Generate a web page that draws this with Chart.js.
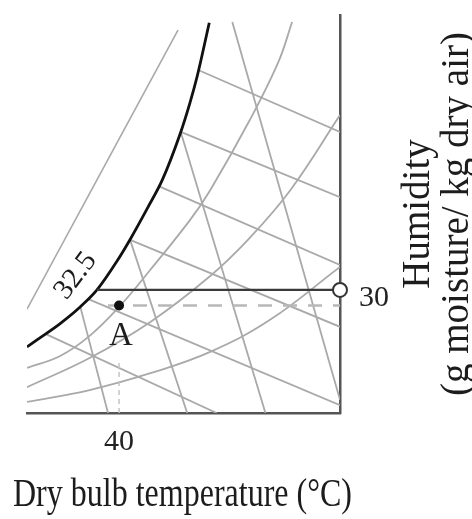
<!DOCTYPE html>
<html>
<head>
<meta charset="utf-8">
<script src="https://cdn.jsdelivr.net/npm/chart.js@4/dist/chart.umd.min.js"></script>
<style>
html,body{margin:0;padding:0;background:#fff;}
#wrap{width:472px;height:519px;}
</style>
</head>
<body>
<div id="wrap"><canvas id="c" width="472" height="519"></canvas></div>
<script>
// ---- data (dry bulb temperature °C, humidity g/kg) ----
const xTicks = [40];
const yTicks = [30];
const xTitle = 'Dry bulb temperature (\u00B0C)';
const yTitle = ['Humidity', '(g moisture/ kg dry air)'];

const saturationCurve = [[30.0,16.1],[31.4,18.3],[33.6,21.8],[35.8,25.9],[37.6,30.0],[39.8,37.1],[41.2,42.3],[43.1,50.0],[44.7,56.8],[46.6,67.8],[47.7,75.6],[48.5,82.2],[49.8,95.1]];
const outerLine = [[30.0,25.3],[46.4,93.3]];
const enthalpyLines = [
  [[48.6,83.6],[64,68.5]],
  [[46.7,68.5],[64,52.6]],
  [[44.3,55.3],[64,36.1]],
  [[41.2,42.2],[64,21.0]],
  [[36.6,27.8],[64,1.9]],
  [[32.0,19.3],[50.6,0]]
];
const volumeLines = [
  [[52.3,95.3],[64,3.2]],
  [[46.7,68.5],[55.9,0]],
  [[41.2,42.2],[47.4,0]],
  [[35.8,25.8],[38.8,0]]
];
const rhCurves = [
  [[30.0,11.0],[33.6,13.9],[36.8,18.8],[40.1,26.1],[43.4,34.9],[47.7,47.0],[49.9,54.3],[54.2,71.4],[57.3,85.5],[58.8,95.3]],
  [[30.0,6.3],[36.8,13.4],[43.4,22.2],[49.9,33.4],[54.2,42.7],[58.6,54.3],[64,72.6]],
  [[30.0,2.7],[36.8,5.6],[43.4,9.7],[49.9,14.9],[56.4,22.7],[64,35.6]]
];
const processLine = [[37.6,30],[64,30]];
const stateLine = [[38.8,26.2],[64,26.2]];
const stateDrop = [[40,0],[40,13]];
const pointA = [[40,26.2]];
const pointEnd = [[64,30]];
const curveLabel = {text:'32.5', x:35.3, y:33.4};
const pointLabel = {text:'A', x:40.2, y:18.7};

// ---- build ----
const family = "'Liberation Serif','Times New Roman',serif";
const toXY = a => a.map(([x,y]) => ({x, y}));
const GRAY = '#a9a9a9';
const datasets = [];
datasets.push({data: toXY(pointA), showLine:false, pointRadius:5, pointBackgroundColor:'#111', pointBorderColor:'#111', pointBorderWidth:0, clip:false});
datasets.push({data: toXY(pointEnd), showLine:false, pointRadius:7, pointBackgroundColor:'#fff', pointBorderColor:'#333', pointBorderWidth:2, clip:false});
datasets.push({data: toXY(processLine), borderColor:'#3a3a3a', borderWidth:2.2, pointRadius:0});
datasets.push({data: toXY(stateLine), borderColor:'#b8b8b8', borderWidth:2.5, borderDash:[14,11], pointRadius:0});
datasets.push({data: toXY(stateDrop), borderColor:'#c4c4c4', borderWidth:1.5, borderDash:[5,4], pointRadius:0});
datasets.push({data: toXY(saturationCurve), borderColor:'#111', borderWidth:2.8, pointRadius:0, cubicInterpolationMode:'monotone'});
datasets.push({data: toXY(outerLine), borderColor:GRAY, borderWidth:1.6, pointRadius:0});
enthalpyLines.forEach(l => datasets.push({data: toXY(l), borderColor:GRAY, borderWidth:1.8, pointRadius:0}));
volumeLines.forEach(l => datasets.push({data: toXY(l), borderColor:GRAY, borderWidth:1.8, pointRadius:0}));
rhCurves.forEach(l => datasets.push({data: toXY(l), borderColor:GRAY, borderWidth:1.8, pointRadius:0, tension:0.4}));

const textPlugin = {
  id: 'texts',
  afterDatasetsDraw(chart) {
    const {ctx, scales:{x, y}, chartArea} = chart;
    ctx.save();
    ctx.fillStyle = '#1c1c1c';
    ctx.textAlign = 'center';
    ctx.textBaseline = 'middle';
    ctx.save();
    ctx.translate(x.getPixelForValue(curveLabel.x), y.getPixelForValue(curveLabel.y));
    ctx.rotate(-53 * Math.PI / 180);
    ctx.font = '29px ' + family;
    ctx.fillText(curveLabel.text, 0, 0);
    ctx.restore();
    ctx.font = '33px ' + family;
    ctx.fillText(pointLabel.text, x.getPixelForValue(pointLabel.x), y.getPixelForValue(pointLabel.y));
    // x-axis title (condensed like the source)
    ctx.font = '39px ' + family;
    ctx.fillText(xTitle, (chartArea.left + chartArea.right) / 2 - 1, chartArea.bottom + 83, 339);
    // y-axis title, reading bottom to top
    const cy = (chartArea.top + chartArea.bottom) / 2;
    const offs = [79, 118];
    yTitle.forEach((t, i) => {
      ctx.save();
      ctx.translate(chartArea.right + offs[i], cy);
      ctx.rotate(-Math.PI / 2);
      ctx.font = '39px ' + family;
      ctx.fillText(t, 0, 0);
      ctx.restore();
    });
    ctx.restore();
  }
};

new Chart(document.getElementById('c'), {
  type: 'line',
  data: {datasets},
  plugins: [textPlugin],
  options: {
    responsive: false,
    animation: false,
    devicePixelRatio: 1,
    layout: {padding: {left: 27, top: 15, right: 0, bottom: 0}},
    plugins: {legend: {display: false}, tooltip: {enabled: false}},
    elements: {line: {fill: false}},
    scales: {
      x: {
        type: 'linear', position: 'bottom', min: 30, max: 64,
        grid: {display: false, drawTicks: false},
        border: {display: true, color: '#555', width: 2.5},
        afterBuildTicks: s => { s.ticks = xTicks.map(v => ({value: v})); },
        afterFit: s => { s.height = 106; s.paddingLeft = 0; s.paddingRight = 0; },
        ticks: {padding: 11, color: '#222', font: {family, size: 30}},
        title: {display: false, text: xTitle}
      },
      y: {
        type: 'linear', position: 'right', min: 0, max: 97,
        grid: {display: false, drawTicks: false},
        border: {display: true, color: '#555', width: 2.5},
        afterBuildTicks: s => { s.ticks = yTicks.map(v => ({value: v})); },
        afterFit: s => { s.width = 132; s.paddingTop = 0; s.paddingBottom = 0; },
        ticks: {padding: 19, labelOffset: 8, color: '#222', font: {family, size: 30}}
      }
    }
  }
});
</script>
</body>
</html>
